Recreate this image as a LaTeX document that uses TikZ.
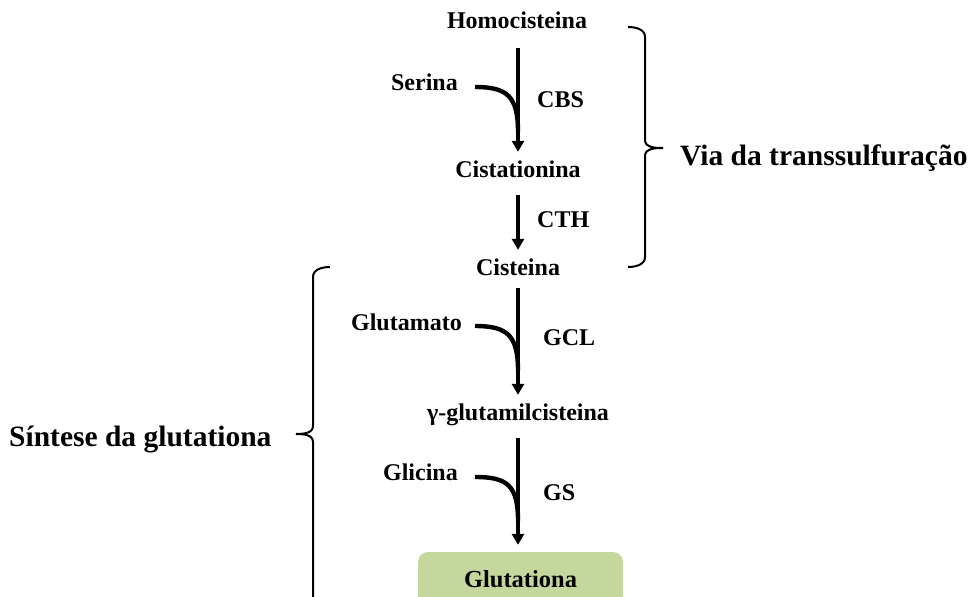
\documentclass[tikz,border=0pt]{standalone}
\usepackage{fontspec}
\setmainfont{Liberation Serif}
\usetikzlibrary{arrows.meta}
\definecolor{boxgreen}{HTML}{C4D79D}
\begin{document}
\begin{tikzpicture}[x=1pt,y=-1pt,
  lbl/.style={inner sep=0pt, font=\fontsize{24}{28}\selectfont\bfseries, text height=17pt, text depth=5pt},
  biglbl/.style={inner sep=0pt, font=\fontsize{29.5}{34}\selectfont\bfseries},
  rx/.style={line width=3.4pt, -{Triangle[width=12pt,length=11pt]}},
  side/.style={line width=4.4pt},
  brace/.style={line width=2pt},
  prodbox/.style={fill=boxgreen, rounded corners=10pt, minimum width=205pt, minimum height=56pt, inner sep=0pt, font=\fontsize{24.5}{28}\selectfont\bfseries}
]
\useasboundingbox (0,0) rectangle (972,597);
\clip (0,0) rectangle (972,597);

% metabolites
\node[lbl, anchor=base] (homo) at (517,28) {Homocisteina};
\node[lbl, anchor=base] (cista) at (518,177) {Cistationina};
\node[lbl, anchor=base] (cis) at (518,275) {Cisteina};
\node[lbl, anchor=base] (ggc) at (518,420) {γ-glutamilcisteina};
\node[prodbox] (glut) at (520.5,580) {\raisebox{3pt}{Glutationa}};

% co-substrates
\node[lbl, anchor=base east] (ser) at (458,90) {Serina};
\node[lbl, anchor=base east] (glu) at (462,330) {Glutamato};
\node[lbl, anchor=base east] (gly) at (458,480) {Glicina};

% enzymes
\node[lbl, anchor=base west] (cbs) at (537,107) {CBS};
\node[lbl, anchor=base west] (cth) at (537,227) {CTH};
\node[lbl, anchor=base west] (gcl) at (543,345) {GCL};
\node[lbl, anchor=base west] (gs) at (543,500) {GS};

% main arrows
\draw[rx, shorten <=15pt, shorten >=8pt] (homo.south -| 518,0) -- (cista.north);
\draw[rx, shorten <=13pt, shorten >=8pt] (cista.south) -- (cis.north);
\draw[rx, shorten <=8pt, shorten >=8pt] (cis.south) -- (ggc.north);
\draw[rx, shorten <=13pt, shorten >=7pt] (ggc.south) -- (glut.north -| 518,0);

% side inputs
\coordinate (j1) at (518,132);
\coordinate (j2) at (518,371);
\coordinate (j3) at (518,521);
\draw[side] ([xshift=17pt,yshift=-3pt]ser.east) .. controls +(32,0) and +(0,-36) .. (j1);
\draw[side] ([xshift=13pt,yshift=-2pt]glu.east) .. controls +(32,0) and +(0,-36) .. (j2);
\draw[side] ([xshift=17pt,yshift=-3pt]gly.east) .. controls +(32,0) and +(0,-36) .. (j3);

% braces
\node[biglbl, anchor=base west] (via) at (680,165) {Via da transsulfuração};
\node[biglbl, anchor=base west] (sint) at (9,446) {Síntese da glutationa};
\coordinate (rtip) at (663,148);
\coordinate (ltip) at (296,434);
\draw[brace] (628,27) to[out=0,in=90] (645,37) -- (645,140) to[out=-90,in=180] (rtip)
  to[out=180,in=90] (645,156) -- (645,257) to[out=-90,in=0] (628,267);
\draw[brace] (330,267) to[out=180,in=90] (313,277) -- (313,426) to[out=-90,in=0] (ltip)
  to[out=0,in=90] (313,442) -- (313,610);
\end{tikzpicture}
\end{document}
